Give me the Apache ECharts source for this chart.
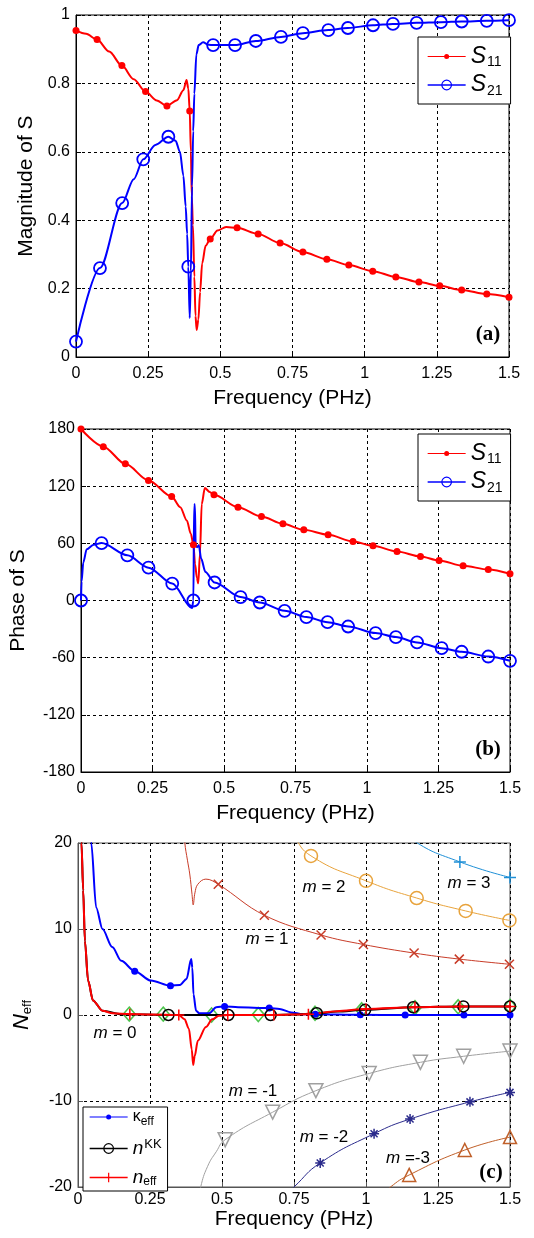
<!DOCTYPE html>
<html>
<head>
<meta charset="utf-8">
<title>S-parameters and N_eff</title>
<script src="https://cdn.jsdelivr.net/npm/echarts@6.0.0/dist/echarts.min.js"></script>
<style>
  html, body { margin: 0; padding: 0; background: #fff; }
  #chart { width: 534px; height: 1238px; }
</style>
</head>
<body>
<div id="chart"></div>
<script>
// every point is [frequency (PHz), value]; *Marks carry a marker, *Line only shape the curve

// (a) magnitude of S
const s11MagMarks = [[0, 0.955], [0.073, 0.928], [0.159, 0.852], [0.241, 0.776], [0.315, 0.734], [0.394, 0.719], [0.465, 0.345], [0.558, 0.378], [0.631, 0.36], [0.707, 0.333], [0.786, 0.307], [0.869, 0.286], [0.945, 0.269], [1.028, 0.251], [1.108, 0.234], [1.188, 0.219], [1.26, 0.208], [1.336, 0.196], [1.423, 0.184], [1.5, 0.175]]
const s11MagLine = [[0.035, 0.945], [0.115, 0.893], [0.2, 0.812], [0.28, 0.75], [0.35, 0.751], [0.372, 0.78], [0.383, 0.81], [0.389, 0.785], [0.398, 0.6], [0.401, 0.47], [0.405, 0.386], [0.41, 0.235], [0.414, 0.12], [0.418, 0.079], [0.424, 0.11], [0.43, 0.19], [0.437, 0.274], [0.449, 0.325], [0.49, 0.37], [0.52, 0.38]]
const s21MagMarks = [[0, 0.045], [0.083, 0.26], [0.16, 0.45], [0.233, 0.578], [0.32, 0.644], [0.389, 0.264], [0.475, 0.912], [0.551, 0.912], [0.623, 0.924], [0.71, 0.936], [0.786, 0.947], [0.874, 0.956], [0.942, 0.962], [1.029, 0.97], [1.098, 0.974], [1.18, 0.977], [1.264, 0.979], [1.336, 0.981], [1.423, 0.983], [1.5, 0.985]]
const s21MagLine = [[0.2, 0.52], [0.275, 0.62], [0.345, 0.632], [0.36, 0.6], [0.372, 0.53], [0.38, 0.44], [0.385, 0.36], [0.394, 0.114], [0.398, 0.25], [0.402, 0.5], [0.406, 0.66], [0.41, 0.77], [0.417, 0.885], [0.425, 0.912], [0.44, 0.92], [0.46, 0.913]]

// (b) phase of S (degrees)
const s11PhaseMarks = [[0, 180], [0.078, 161.5], [0.155, 143.4], [0.236, 126], [0.317, 109.2], [0.393, 58.6], [0.465, 110.9], [0.549, 98], [0.631, 88.2], [0.706, 80.5], [0.779, 74.2], [0.864, 69], [0.951, 62], [1.021, 57.4], [1.105, 51.4], [1.187, 46.2], [1.252, 42], [1.336, 36.5], [1.424, 32.5], [1.5, 28]]
const s11PhaseLine = [[0.347, 98], [0.37, 84], [0.384, 70], [0.399, 38], [0.405, 24], [0.41, 18], [0.416, 49], [0.422, 101], [0.433, 118], [0.45, 114]]
const s21PhaseMarks = [[0, 0], [0.072, 60.3], [0.162, 47.4], [0.236, 34.5], [0.319, 17.8], [0.393, 0], [0.467, 18.9], [0.558, 3.6], [0.625, -2.1], [0.712, -10.8], [0.788, -17.4], [0.862, -22.7], [0.934, -27.3], [1.03, -34.2], [1.101, -38.4], [1.175, -44], [1.261, -50], [1.331, -53.8], [1.424, -58.8], [1.5, -63.3]]
const s21PhaseLine = [[0.002, 20], [0.008, 40], [0.02, 53.7], [0.044, 58.5], [0.388, -8], [0.3955, 100], [0.398, 101], [0.401, 58], [0.406, 56], [0.412, 58], [0.42, 44], [0.435, 30]]

// (c) effective index
const kEffMarks = [[0.197, 5.1], [0.321, 3.4], [0.509, 1.0], [0.664, 0.8], [0.824, 0.1], [0.98, 0.02], [1.136, 0], [1.34, 0], [1.5, 0]]
const kEffLine = [[0.04, 25], [0.046, 20], [0.063, 12.5], [0.085, 10], [0.119, 7.9], [0.15, 6.3], [0.253, 4], [0.354, 3.5], [0.377, 4.2], [0.393, 6.5], [0.397, 5.5], [0.401, 2.4], [0.41, 0.5], [0.421, 0.2], [0.455, 0.2], [0.48, 0.9], [0.556, 0.9], [0.7, 0.7], [0.74, 0.3], [0.78, 0.1]]
const nKKMarks = [[0.314, 0], [0.522, 0], [0.669, 0], [0.829, 0.2], [0.997, 0.6], [1.164, 0.9], [1.338, 1.0], [1.5, 1.0]]
const nKKLine = [[0.008, 40], [0.012, 20], [0.018, 14.5], [0.024, 8.6], [0.035, 4], [0.052, 1.7], [0.085, 0.5], [0.15, 0.1], [0.4, 0], [0.75, 0.05], [0.9, 0.4]]
const nEffMarks = [[0.18, 0.1], [0.35, 0], [0.52, 0], [0.68, 0], [0.8, 0.1], [1.0, 0.7], [1.17, 0.9], [1.326, 1.0], [1.5, 1.0]]
const nEffLine = [[0.008, 40], [0.012, 20], [0.018, 14.5], [0.024, 8.6], [0.035, 4], [0.052, 1.7], [0.085, 0.5], [0.12, 0.2], [0.25, 0.05], [0.37, -0.5], [0.385, -1.6], [0.395, -4], [0.4, -5.8], [0.405, -4.8], [0.416, -3], [0.444, -1.4], [0.466, -0.5], [0.489, -0.1], [0.9, 0.45]]
const kkDiamonds = [[0.178, 0.1], [0.296, 0.1], [0.464, 0], [0.626, 0.05], [0.823, 0.2], [0.985, 0.6], [1.17, 0.85], [1.32, 0.95], [1.5, 1.0]]

// Bloch branches m = 1, 2, 3, -1, -2, -3
const m1Marks = [[0.487, 15.2], [0.647, 11.6], [0.844, 9.3], [0.991, 8.2], [1.167, 7.2], [1.324, 6.5], [1.498, 5.9]]
const m1Line = [[0.36, 26], [0.371, 20], [0.38, 18], [0.388, 16.4], [0.396, 14], [0.4, 12.8], [0.406, 14.2], [0.416, 15.2], [0.444, 15.8]]
const m2Marks = [[0.809, 18.5], [1.0, 15.6], [1.176, 13.6], [1.346, 12.1], [1.498, 11.0]]
const m2Line = [[0.72, 22.6], [0.748, 20.9]]
const m3Marks = [[1.326, 17.8], [1.5, 16.0]]
const m3Line = [[1.12, 22.2], [1.164, 20.3]]
const mNeg1Marks = [[0.511, -14.5], [0.676, -11.3], [0.826, -8.8], [1.011, -6.8], [1.189, -5.5], [1.339, -4.8], [1.5, -4.2]]
const mNeg1Line = [[0.41, -23], [0.426, -20], [0.45, -17.6], [0.48, -15.9]]
const mNeg2Marks = [[0.841, -17.2], [1.028, -13.8], [1.153, -12.1], [1.361, -10.1], [1.5, -9.0]]
const mNeg2Line = [[0.72, -21], [0.75, -20]]
const mNeg3Marks = [[1.15, -18.6], [1.343, -15.7], [1.5, -14.2]]
const mNeg3Line = [[1.05, -21.2], [1.085, -20]]

const freqTicks = [0, 0.25, 0.5, 0.75, 1, 1.25, 1.5]
const branchLabels = [
  { text: '0', at: [115, 1033] },
  { text: '1', at: [267, 939] },
  { text: '2', at: [324, 887] },
  { text: '3', at: [469, 883] },
  { text: '-1', at: [253, 1091] },
  { text: '-2', at: [324, 1137] },
  { text: '-3', at: [408, 1158], tight: true },
]

const SANS = '"Liberation Sans", Arial, sans-serif'
const SERIF = '"Liberation Serif", "Times New Roman", serif'

const PLUS = 'path://M5 0L5 10M0 5L10 5'
const CROSS = 'path://M0 0L10 10M10 0L0 10'
const STAR = 'path://M5 0L5 10M0 5L10 5M1.5 1.5L8.5 8.5M8.5 1.5L1.5 8.5'
// legend icon: thin line with a small dot, padded to a 38x12 box
const DOT_ICON = 'path://M0 0L0.05 0L0.05 0.05Z M0 12L0.05 12L0.05 11.95Z M0 5.4L38 5.4L38 6.6L0 6.6Z M16.5 6A2.5 2.5 0 1 1 21.5 6A2.5 2.5 0 1 1 16.5 6Z'

const merge = (line, marks) =>
  line.map((p) => ({ value: p, symbol: 'none' }))
    .concat(marks.map((p) => ({ value: p })))
    .sort((a, b) => a.value[0] - b.value[0])

const curve = (name, idx, line, marks, o) => ({
  name,
  type: 'line',
  xAxisIndex: idx,
  yAxisIndex: idx,
  data: merge(line, marks),
  smooth: o.smooth ?? 0.3,
  smoothMonotone: o.free ? null : 'x',
  silent: true,
  symbol: o.symbol,
  symbolSize: o.size,
  symbolRotate: o.rotate || 0,
  lineStyle: { color: o.color, width: o.width || 2 },
  itemStyle: o.hollow
    ? { color: 'rgba(0,0,0,0)', borderColor: o.color, borderWidth: o.bw || 1.5 }
    : { color: o.color },
})

const xAxisOf = (idx, frame, margin, nameGap) => ({
  type: 'value',
  gridIndex: idx,
  min: freqTicks[0],
  max: freqTicks[freqTicks.length - 1],
  interval: freqTicks[1] - freqTicks[0],
  name: 'Frequency (PHz)',
  nameLocation: 'middle',
  nameGap,
  nameTextStyle: { fontFamily: SANS, fontSize: 21, color: '#000' },
  axisLine: { show: true, onZero: false, lineStyle: { color: frame } },
  axisTick: { show: true, inside: true, length: 5, lineStyle: { color: frame } },
  axisLabel: { fontFamily: SANS, fontSize: 16, color: '#000', margin },
  splitLine: { show: true, lineStyle: { color: '#000', width: 1, type: [3, 3] } },
})

const yAxisOf = (idx, min, max, interval, name, nameGap, frame, rich) => ({
  type: 'value',
  gridIndex: idx,
  min,
  max,
  interval,
  name,
  nameLocation: 'middle',
  nameGap,
  nameTextStyle: { fontFamily: SANS, fontSize: 21, color: '#000', rich },
  axisLine: { show: true, onZero: false, lineStyle: { color: frame } },
  axisTick: { show: true, inside: true, length: 5, lineStyle: { color: frame } },
  axisLabel: { fontFamily: SANS, fontSize: 16, color: '#000', margin: 6 },
  splitLine: { show: true, lineStyle: { color: '#000', width: 1, type: [3, 3] } },
})

const legendRich = {
  s: { fontFamily: SANS, fontStyle: 'italic', fontSize: 23, color: '#000' },
  sub: { fontFamily: SANS, fontSize: 14, color: '#000', padding: [12, 0, 0, 1] },
  k: { fontFamily: SANS, fontSize: 16, color: '#000' },
  n: { fontFamily: SANS, fontStyle: 'italic', fontSize: 19, color: '#000' },
  esub: { fontFamily: SANS, fontSize: 12, color: '#000', padding: [9, 0, 0, 0] },
  sup: { fontFamily: SANS, fontSize: 13, color: '#000', padding: [0, 0, 9, 1] },
}
const legendText = {
  S11: '{s|S}{sub|11}',
  S21: '{s|S}{sub|21}',
  kEff: '{k|κ}{esub|eff}',
  nKK: '{n|n}{sup|KK}',
  nEff: '{n|n}{esub|eff}',
}

const legendOf = (data, left, top, padding, itemGap) => ({
  orient: 'vertical',
  left,
  top,
  data,
  padding,
  itemGap,
  itemWidth: 38,
  itemHeight: 12,
  backgroundColor: '#fff',
  borderColor: '#000',
  borderWidth: 1,
  borderRadius: 0,
  selectedMode: false,
  lineStyle: { width: 1.3 },
  itemStyle: { borderWidth: 1.2 },
  formatter: (name) => legendText[name],
  textStyle: { rich: legendRich },
})

const RED = '#ff0000'
const BLUE = '#0000ff'

const chart = echarts.init(document.getElementById('chart'), null, { renderer: 'canvas' })
chart.setOption({
  animation: false,
  backgroundColor: '#fff',
  grid: [
    { left: 76, top: 15, width: 433, height: 342, show: true, borderColor: '#000', borderWidth: 1 },
    { left: 81, top: 429, width: 429, height: 343, show: true, borderColor: '#000', borderWidth: 1 },
    { left: 78, top: 843, width: 432, height: 344, show: true, borderColor: '#555', borderWidth: 1 },
  ],
  xAxis: [xAxisOf(0, '#000', 9, 31), xAxisOf(1, '#000', 9, 31), xAxisOf(2, '#555', 5, 22)],
  yAxis: [
    yAxisOf(0, 0, 1, 0.2, 'Magnitude of S', 38, '#000'),
    yAxisOf(1, -180, 180, 60, 'Phase of S', 52, '#000'),
    yAxisOf(2, -20, 20, 10, '{n|N}{e|eff}', 44, '#555', {
      n: { fontFamily: SANS, fontStyle: 'italic', fontSize: 22, color: '#000' },
      e: { fontFamily: SANS, fontSize: 13, color: '#000', padding: [12, 0, 0, 0] },
    }),
  ],
  legend: [
    legendOf([{ name: 'S11', icon: DOT_ICON }, 'S21'], 418, 37, [8, 8, 6, 9], 4),
    legendOf([{ name: 'S11', icon: DOT_ICON }, 'S21'], 418, 434, [8, 8, 6, 9], 4),
    legendOf([{ name: 'kEff', icon: DOT_ICON }, 'nKK', 'nEff'], 83, 1107, [2, 6, 3, 6], 10),
  ],
  series: [
    curve('S11', 0, s11MagLine, s11MagMarks, { color: RED, symbol: 'circle', size: 7 }),
    curve('S21', 0, s21MagLine, s21MagMarks, { color: BLUE, symbol: 'circle', size: 12, hollow: true, bw: 1.8 }),
    curve('S11', 1, s11PhaseLine, s11PhaseMarks, { color: RED, symbol: 'circle', size: 7 }),
    curve('S21', 1, s21PhaseLine, s21PhaseMarks, { color: BLUE, symbol: 'circle', size: 12, hollow: true, bw: 1.8 }),

    curve('m1', 2, m1Line, m1Marks, { color: '#c83c28', symbol: CROSS, size: 9, hollow: true, width: 1, free: true, smooth: 0.4 }),
    curve('m2', 2, m2Line, m2Marks, { color: '#e8a33c', symbol: 'circle', size: 13, hollow: true, width: 1, free: true, smooth: 0.5 }),
    curve('m3', 2, m3Line, m3Marks, { color: '#1e8fd6', symbol: PLUS, size: 12, hollow: true, width: 1, free: true, smooth: 0.5 }),
    curve('m-1', 2, mNeg1Line, mNeg1Marks, { color: '#a0a0a0', symbol: 'triangle', rotate: 180, size: 14, hollow: true, width: 1, free: true, smooth: 0.5 }),
    curve('m-2', 2, mNeg2Line, mNeg2Marks, { color: '#2b2b8c', symbol: STAR, size: 10, hollow: true, width: 1, free: true, smooth: 0.5 }),
    curve('m-3', 2, mNeg3Line, mNeg3Marks, { color: '#c0602a', symbol: 'triangle', size: 13, hollow: true, width: 1, free: true, smooth: 0.5 }),

    curve('kEff', 2, kEffLine, kEffMarks, { color: BLUE, symbol: 'circle', size: 7 }),
    curve('nKK', 2, nKKLine, nKKMarks, { color: '#000', symbol: 'circle', size: 11, hollow: true, bw: 1.5 }),
    curve('nEff', 2, nEffLine, nEffMarks, { color: RED, symbol: PLUS, size: 11, hollow: true, bw: 1.5 }),
    {
      name: 'kkDiamond',
      type: 'scatter',
      xAxisIndex: 2,
      yAxisIndex: 2,
      silent: true,
      data: kkDiamonds,
      symbol: 'diamond',
      symbolSize: [12, 14],
      itemStyle: { color: 'rgba(0,0,0,0)', borderColor: '#1fb51f', borderWidth: 1.6 },
    },
  ],
  graphic: [
    ...[['(a)', 488, 335], ['(b)', 488, 750], ['(c)', 491, 1173]].map(([text, x, y]) => ({
      type: 'text',
      x,
      y,
      silent: true,
      style: { text, fill: '#000', font: 'bold 21px ' + SERIF, align: 'center', verticalAlign: 'middle' },
    })),
    ...branchLabels.map((b) => ({
      type: 'text',
      x: b.at[0],
      y: b.at[1],
      silent: true,
      style: {
        text: '{i|m} ' + (b.tight ? '=' : '= ') + b.text,
        fill: '#000',
        font: '17px ' + SANS,
        align: 'center',
        verticalAlign: 'middle',
        rich: { i: { fontFamily: SANS, fontStyle: 'italic', fontSize: 17, fill: '#000' } },
      },
    })),
  ],
})
</script>
</body>
</html>
